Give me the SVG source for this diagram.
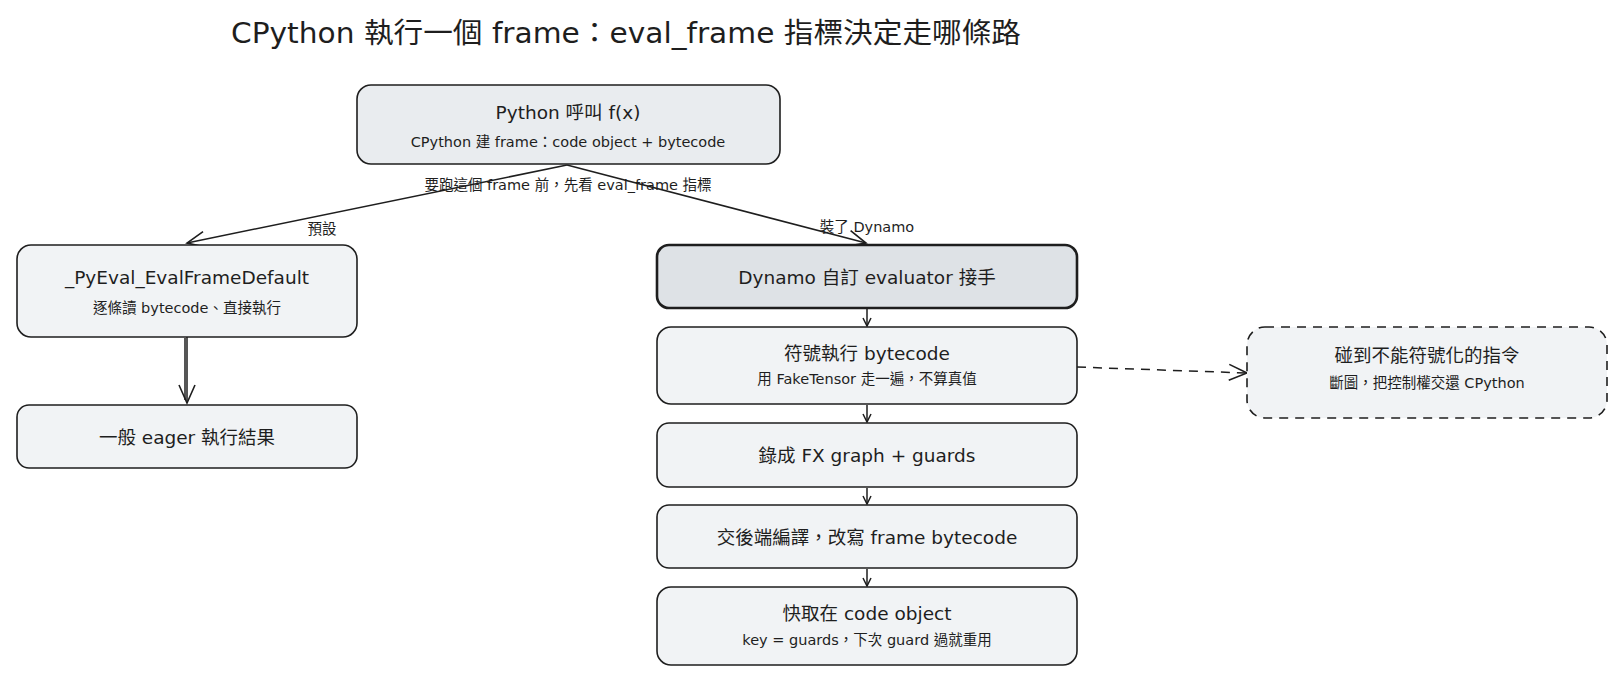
<svg xmlns="http://www.w3.org/2000/svg" width="1624" height="683" viewBox="0 0 1624 683">
<style>
text{font-family:"DejaVu Sans","Noto Sans CJK TC",sans-serif;fill:#1e1e1e;text-anchor:middle;dominant-baseline:central}
.t{font-size:28px}
.m{font-size:18.5px}
.s{font-size:14.5px}
.e{font-size:14.5px}
.box{stroke:#1e1e1e;stroke-width:1.6}
.light{fill:#f1f3f5}
.top{fill:#e9ecef}
.dyn{fill:#dee2e6;stroke-width:2.6}
.dash{fill:#f1f3f5;stroke-dasharray:9 7}
.ln{fill:none;stroke:#1e1e1e;stroke-width:1.5}
</style>
<defs>
<marker id="ah" markerWidth="24" markerHeight="24" refX="20" refY="12" orient="auto" markerUnits="userSpaceOnUse">
<path d="M2,4 L20,12 L2,20" fill="none" stroke="#1e1e1e" stroke-width="1.6"/>
</marker>
<marker id="ahs" markerWidth="12" markerHeight="12" refX="10" refY="6" orient="auto" markerUnits="userSpaceOnUse">
<path d="M2,2 L10,6 L2,10" fill="none" stroke="#1e1e1e" stroke-width="1.5"/>
</marker>
</defs>
<rect width="1624" height="683" fill="#ffffff"/>
<text class="t" x="626" y="33" textLength="790" lengthAdjust="spacingAndGlyphs">CPython 執行一個 frame：eval_frame 指標決定走哪條路</text>

<g id="connectors">
<path class="ln" d="M567,165 L187,243" marker-end="url(#ah)"/>
<path class="ln" d="M567,165 L866,243" marker-end="url(#ah)"/>
<path class="ln" d="M187,337 L187,403" marker-end="url(#ah)"/>
<path class="ln" d="M185,338 L185,400" />
<path class="ln" d="M867,309 L867,326" marker-end="url(#ahs)"/>
<path class="ln" d="M867,405 L867,422" marker-end="url(#ahs)"/>
<path class="ln" d="M867,488 L867,504" marker-end="url(#ahs)"/>
<path class="ln" d="M867,569 L867,586" marker-end="url(#ahs)"/>
<path class="ln" d="M1077,367 L1247,373" stroke-dasharray="9 7" marker-end="url(#ah)"/>
<text class="e" x="568" y="185">要跑這個 frame 前，先看 eval_frame 指標</text>
<text class="e" x="322" y="229">預設</text>
<text class="e" x="867" y="227">裝了 Dynamo</text>
</g>

<g id="node-call">
<rect class="box top" x="357" y="85" width="423" height="79" rx="14"/>
<text class="m" x="568" y="112">Python 呼叫 f(x)</text>
<text class="s" x="568" y="142">CPython 建 frame：code object + bytecode</text>
</g>

<g id="node-default">
<rect class="box light" x="17" y="245" width="340" height="92" rx="14"/>
<text class="m" x="187" y="277">_PyEval_EvalFrameDefault</text>
<text class="s" x="187" y="308">逐條讀 bytecode、直接執行</text>
</g>

<g id="node-eager">
<rect class="box light" x="17" y="405" width="340" height="63" rx="12"/>
<text class="m" x="187" y="437">一般 eager 執行結果</text>
</g>

<g id="node-dynamo">
<rect class="box dyn" x="657" y="245" width="420" height="63" rx="12"/>
<text class="m" x="867" y="277">Dynamo 自訂 evaluator 接手</text>
</g>

<g id="node-symbolic">
<rect class="box light" x="657" y="327" width="420" height="77" rx="14"/>
<text class="m" x="867" y="353">符號執行 bytecode</text>
<text class="s" x="867" y="379">用 FakeTensor 走一遍，不算真值</text>
</g>

<g id="node-fx">
<rect class="box light" x="657" y="423" width="420" height="64" rx="12"/>
<text class="m" x="867" y="455">錄成 FX graph + guards</text>
</g>

<g id="node-compile">
<rect class="box light" x="657" y="505" width="420" height="63" rx="12"/>
<text class="m" x="867" y="537">交後端編譯，改寫 frame bytecode</text>
</g>

<g id="node-cache">
<rect class="box light" x="657" y="587" width="420" height="78" rx="14"/>
<text class="m" x="867" y="613">快取在 code object</text>
<text class="s" x="867" y="640">key = guards，下次 guard 過就重用</text>
</g>

<g id="node-break">
<rect class="box dash" x="1247" y="327" width="360" height="91" rx="18"/>
<text class="m" x="1427" y="355">碰到不能符號化的指令</text>
<text class="s" x="1427" y="383">斷圖，把控制權交還 CPython</text>
</g>
</svg>
